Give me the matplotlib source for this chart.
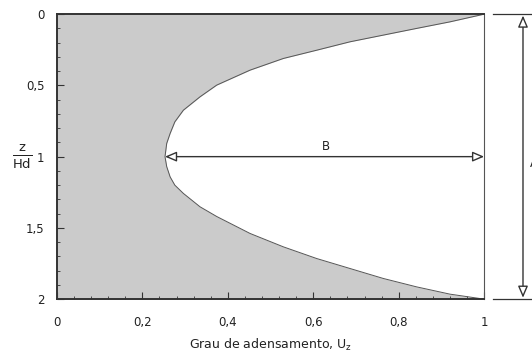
import numpy as np
import matplotlib
matplotlib.use('Agg')
import matplotlib.pyplot as plt
from matplotlib.ticker import MultipleLocator, FuncFormatter

# isocrona: profundidade relativa z/Hd e grau de adensamento Uz
Z_HD = [0.0, 0.054, 0.100, 0.147, 0.194, 0.253, 0.311, 0.393, 0.498,
        0.58, 0.674, 0.756, 0.837, 0.907, 1.0, 1.07, 1.142, 1.2, 1.258,
        1.352, 1.42, 1.539, 1.633, 1.715, 1.785, 1.855, 1.914, 1.965, 2.0]
U_Z = [1.0, 0.920, 0.842, 0.764, 0.686, 0.608, 0.530, 0.452, 0.374,
       0.335, 0.296, 0.276, 0.265, 0.257, 0.253, 0.257, 0.265, 0.276, 0.296,
       0.335, 0.374, 0.452, 0.530, 0.608, 0.686, 0.764, 0.842, 0.920, 1.0]

X_TICKS = [0, 0.2, 0.4, 0.6, 0.8, 1]
Y_TICKS = [0, 0.5, 1, 1.5, 2]

FILL = '#cbcbcb'
INK = '#333333'

fig = plt.figure(figsize=(5.32, 3.54), dpi=100)
ax = fig.add_axes([0.107, 0.155, 0.803, 0.805])

ax.fill_betweenx(Z_HD, 0, U_Z, color=FILL, lw=0)
ax.plot(U_Z, Z_HD, color='#555555', lw=0.7)

ax.set_xlim(0, 1)
ax.set_ylim(2, 0)

fmt = FuncFormatter(lambda v, p: f"{v:g}".replace('.', ','))
ax.set_xticks(X_TICKS)
ax.set_yticks(Y_TICKS)
ax.xaxis.set_major_formatter(fmt)
ax.yaxis.set_major_formatter(fmt)
ax.xaxis.set_minor_locator(MultipleLocator(0.04))
ax.yaxis.set_minor_locator(MultipleLocator(0.1))
ax.tick_params(which='both', direction='in', top=False, right=False,
               colors=INK, labelsize=8.5, labelcolor='#222222')
ax.tick_params(axis='x', which='major', length=5, width=0.8, pad=12)
ax.tick_params(axis='y', which='major', length=5, width=0.8, pad=9)
ax.tick_params(which='minor', length=2.5, width=0.6)

for side in ['left', 'bottom', 'top']:
    ax.spines[side].set_linewidth(1.4)
    ax.spines[side].set_color(INK)
ax.spines['right'].set_linewidth(0.8)
ax.spines['right'].set_color('#555555')

ax.set_xlabel('Grau de adensamento, U$_\\mathregular{z}$', fontsize=9,
              color='#222222', labelpad=6)
ax.text(-0.082, 1.0, '$\\frac{\\mathregular{z}}{\\mathregular{Hd}}$',
        fontsize=13.5, ha='center', va='center', color='#222222',
        clip_on=False)

# seta B (largura da isocrona em z/Hd = 1)
u_min = min(U_Z)
arrow = dict(arrowstyle='<|-|>,head_length=0.7,head_width=0.3', color=INK,
             lw=1.0, fc='white', mutation_scale=10, shrinkA=0, shrinkB=0)
ax.annotate('', xy=(1, 1), xytext=(u_min, 1), arrowprops=arrow)
ax.text(0.63, 0.93, 'B', fontsize=8.5, ha='center', va='center',
        color='#222222')

# cota A (altura total da camada)
ax.plot([1.021, 1.13], [0, 0], color=INK, lw=0.9, clip_on=False)
ax.plot([1.021, 1.13], [2, 2], color=INK, lw=0.9, clip_on=False)
ax.annotate('', xy=(1.091, 0.01), xytext=(1.091, 1.99),
            arrowprops=arrow, annotation_clip=False)
ax.text(1.108, 1.05, 'A', fontsize=8.5, ha='left', va='center',
        color='#222222', clip_on=False)

fig.savefig('out.png', dpi=100)
